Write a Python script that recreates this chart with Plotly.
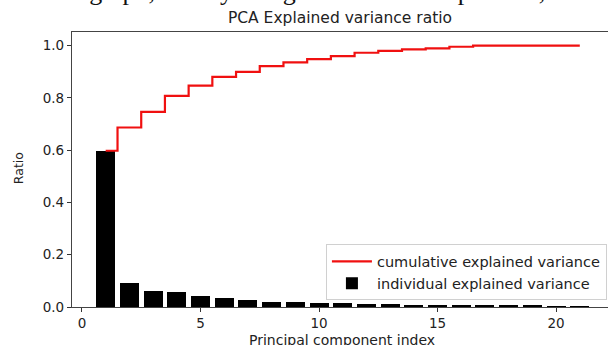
import plotly.graph_objects as go

components = list(range(1, 22))
individual = [0.597, 0.092, 0.062, 0.058, 0.044, 0.035, 0.025, 0.021, 0.020, 0.016,
              0.015, 0.013, 0.012, 0.007, 0.007, 0.006, 0.006, 0.005, 0.005, 0.002, 0.001]
cumulative = [0.598, 0.687, 0.747, 0.808, 0.847, 0.881, 0.900, 0.922, 0.936, 0.949,
              0.960, 0.973, 0.980, 0.986, 0.990, 0.996, 1.000, 1.000, 1.000, 1.000, 1.000]
x_ticks = [0, 5, 10, 15, 20]
y_ticks = [0.0, 0.2, 0.4, 0.6, 0.8, 1.0]
top_words = ["from the graph, that by using", "2", "PCA", "components,", "we"]
top_word_px = [-8, 317, 346, 411, 561]

W, H = 608, 345
L, T, B = 72, 32, 38.3
plot_w = W - L
plot_h = H - T - B
plot_bottom = T + plot_h

fig = go.Figure()
fig.add_trace(go.Scatter(
    x=components, y=cumulative, mode="lines", line_shape="hvh",
    line=dict(color="#f01010", width=2.2),
    name="cumulative explained variance"))
fig.add_trace(go.Bar(
    x=components, y=individual, width=0.8, marker_color="black",
    marker_line_width=0, name="individual explained variance"))

axis_font = dict(family="DejaVu Sans", size=13.5, color="#222222")

fig.update_layout(
    width=W, height=H,
    margin=dict(l=L, r=0, t=T, b=B, pad=0, autoexpand=False),
    paper_bgcolor="white", plot_bgcolor="white",
    font=dict(family="DejaVu Sans", color="#222222"),
    title=dict(text="PCA Explained variance ratio", x=0.5, xref="paper",
               xanchor="center", y=1 - 18 / H, yanchor="middle",
               font=dict(family="DejaVu Sans", size=15.5, color="#222222")),
    showlegend=True,
    legend=dict(x=0.998, y=0.024, xanchor="right", yanchor="bottom",
                bgcolor="rgba(255,255,255,0.85)", bordercolor="#d0d0d0",
                borderwidth=1, font=dict(family="DejaVu Sans", size=14.5, color="#222222"),
                tracegroupgap=0, itemwidth=40),
    xaxis=dict(range=[-0.42, 22.19], tickvals=x_ticks, ticktext=[str(v) for v in x_ticks],
               ticks="outside", ticklen=4, tickcolor="#333333", showgrid=False,
               zeroline=False, showline=True, linecolor="#444444", linewidth=1.2,
               mirror=True, tickfont=axis_font, automargin=False),
    yaxis=dict(range=[0, 1.0525], tickvals=y_ticks, ticktext=[f"{v:.1f}" for v in y_ticks],
               ticks="outside", ticklen=4, tickcolor="#333333", showgrid=False,
               zeroline=False, showline=True, linecolor="#444444", linewidth=1.2,
               tickfont=axis_font, automargin=False),
    bargap=0,
)

# axis titles
fig.add_annotation(text="Principal component index", xref="paper", yref="paper",
                   x=0.503, y=(plot_bottom - 339.5) / plot_h,
                   xanchor="center", yanchor="middle", showarrow=False,
                   font=dict(family="DejaVu Sans", size=14, color="#222222"))
fig.add_annotation(text="Ratio", xref="paper", yref="paper",
                   x=(18 - L) / plot_w, y=(plot_bottom - 168) / plot_h, textangle=-90,
                   xanchor="center", yanchor="middle", showarrow=False,
                   font=dict(family="DejaVu Sans", size=12.5, color="#222222"))

for word, px in zip(top_words, top_word_px):
    fig.add_annotation(
        text=word, xref="paper", yref="paper",
        x=(px - L) / plot_w, y=1 + (T + 8.5) / plot_h,
        xanchor="left", yanchor="middle", showarrow=False,
        font=dict(family="Liberation Serif", size=26, color="#111111"))

fig.write_html("out.html", config={"displayModeBar": False},
               post_script="document.body.style.margin='0px';")
